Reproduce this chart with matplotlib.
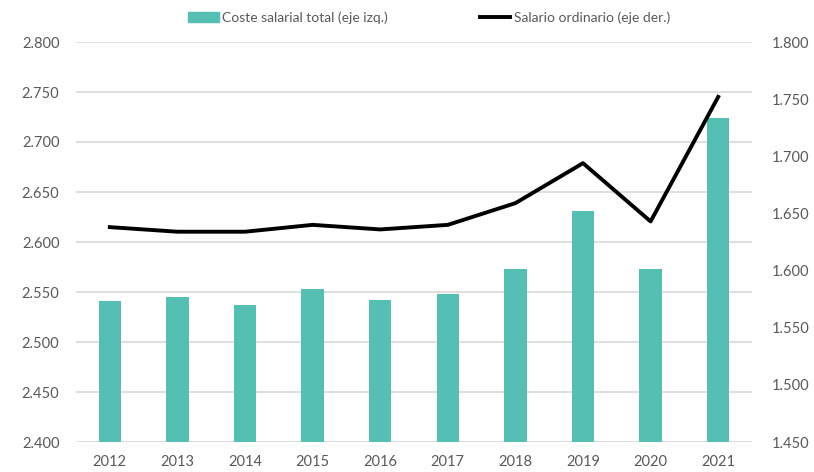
import matplotlib
matplotlib.use("Agg")
import matplotlib.pyplot as plt
from matplotlib.ticker import FuncFormatter
from matplotlib.lines import Line2D
from matplotlib.patches import Patch

plt.rcParams['font.family'] = ['Lato', 'DejaVu Sans']

years = ['2012', '2013', '2014', '2015', '2016', '2017', '2018', '2019', '2020', '2021']
coste_total = [2.541, 2.545, 2.537, 2.553, 2.542, 2.548, 2.573, 2.631, 2.573, 2.724]
salario_ord = [1.638, 1.634, 1.634, 1.640, 1.636, 1.640, 1.659, 1.694, 1.643, 1.752]

bar_color = '#56bfb3'
txt = '#595959'

def fmt(v, pos):
    return f"{v:.3f}"

fig = plt.figure(figsize=(8.14, 4.72), dpi=100)
ax = fig.add_axes([76/814, 30/472, 676/814, 400/472])
x = range(len(years))
ax.bar(x, coste_total, width=0.33, color=bar_color, zorder=2)
ax.set_ylim(2.4, 2.8)
ax.set_yticks([2.4 + 0.05*i for i in range(9)])
ax.yaxis.set_major_formatter(FuncFormatter(fmt))
ax.set_xlim(-0.5, len(years) - 0.5)
ax.set_xticks(list(x))
ax.set_xticklabels(years)
ax.grid(axis='y', color='#d9d9d9', linewidth=1.2, zorder=0)
ax.set_axisbelow(True)

ax2 = ax.twinx()
ax2.plot(x, salario_ord, color='black', linewidth=2.8, zorder=3)
ax2.set_ylim(1.45, 1.80)
ax2.set_yticks([1.45 + 0.05*i for i in range(8)])
ax2.yaxis.set_major_formatter(FuncFormatter(fmt))

for a in (ax, ax2):
    for s in a.spines.values():
        s.set_visible(False)
    a.tick_params(length=0, labelsize=10.5, colors=txt)
ax.tick_params(axis='y', pad=12)
ax.tick_params(axis='x', pad=9)
ax2.tick_params(axis='y', pad=14)

handles = [Patch(color=bar_color), Line2D([0], [0], color='black', linewidth=2.8)]
labels = ['Coste salarial total (eje izq.)', 'Salario ordinario (eje der.)']
leg = fig.legend(handles, labels, loc='center', bbox_to_anchor=(0.527, 0.962), ncol=2,
                 frameon=False, fontsize=10, columnspacing=6.6, handlelength=2.2,
                 handletextpad=0.25)
for t in leg.get_texts():
    t.set_color(txt)

fig.savefig('out.png', dpi=100)
